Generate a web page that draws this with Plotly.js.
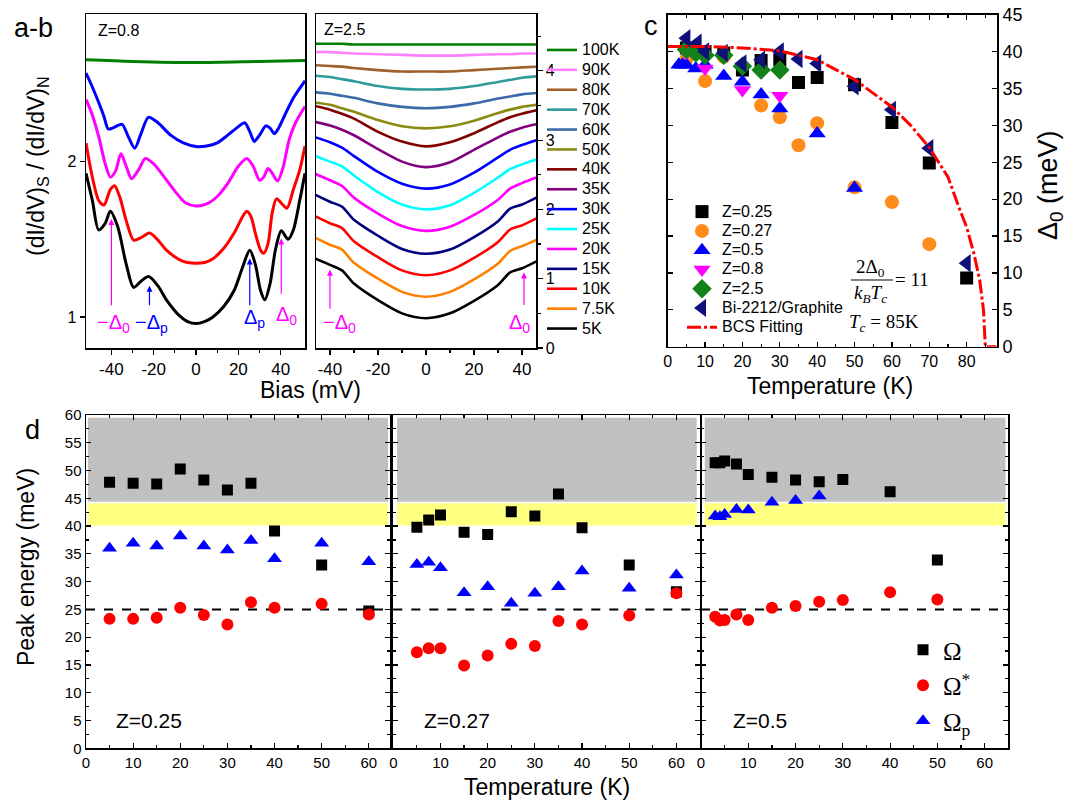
<!DOCTYPE html>
<html><head><meta charset="utf-8">
<script src="https://cdn.plot.ly/plotly-3.0.1.min.js"></script>
<style>body{margin:0;background:#fff}#g{width:1084px;height:803px}</style>
</head><body><div id="g"></div><script>
// ---------- Panel a (Z=0.8) ----------
const aBiasBlack=[-52,-49,-46,-43,-40.5,-37,-33,-29.5,-26,-22.4,-18,-14,-8,-4,0,4,8,13,18,22,25.4,28,30.5,32.5,35,37.5,40.3,43.5,46,49,51.5];
const aBlack=[1.925,1.75,1.56,1.60,1.68,1.58,1.34,1.19,1.23,1.26,1.20,1.11,1.01,0.97,0.957,0.97,1.0,1.065,1.17,1.32,1.43,1.34,1.17,1.11,1.215,1.43,1.555,1.50,1.56,1.75,1.925];
const aBiasRed=[-52,-49,-46,-43.5,-40.5,-38.5,-36,-33,-29.5,-26,-22,-18,-14,-8,-4,0,4,8,13,18,22,24,26,28,30.5,32,34,36,38,40.5,43,46,49,51.5];
const aRed=[2.12,1.90,1.75,1.72,1.82,1.845,1.77,1.62,1.495,1.51,1.54,1.495,1.43,1.37,1.35,1.345,1.35,1.375,1.44,1.54,1.645,1.68,1.645,1.54,1.43,1.41,1.47,1.67,1.76,1.73,1.70,1.82,1.945,2.10];
const aBiasMag=[-52,-49,-46,-43,-40.5,-38,-35.5,-33,-30.5,-27,-24,-20,-15,-10,-5,0,5,10,15,20,24,27,30,32,34,36,38.5,41,44,47,51.5];
const aMag=[2.40,2.30,2.16,1.99,1.90,1.94,2.05,1.97,1.89,1.95,2.02,1.985,1.90,1.81,1.735,1.714,1.727,1.775,1.86,1.97,2.02,1.97,1.88,1.90,1.955,1.925,1.875,1.955,2.14,2.25,2.355];
const aBiasBlue=[-52,-49,-46,-43.5,-41.5,-39.5,-35,-32,-29,-26,-22.5,-18,-12,-6,0,5,10,15,20,23,25.5,27.5,30,33,35,37,39,42,46,51.5];
const aBlue=[2.57,2.48,2.38,2.29,2.21,2.215,2.24,2.16,2.086,2.18,2.285,2.25,2.17,2.12,2.097,2.10,2.12,2.17,2.225,2.25,2.19,2.13,2.17,2.23,2.215,2.18,2.215,2.30,2.41,2.52];
const aBiasGreen=[-52,-30,0,30,51.5];
const aGreen=[2.656,2.645,2.638,2.645,2.65];

// ---------- Panel b (Z=2.5) ----------
const bBias=[-46,-40,-35,-30,-20,-10,0,10,20,30,35,40,46];
const bLabels=['100K','90K','80K','70K','60K','50K','40K','35K','30K','25K','20K','15K','10K','7.5K','5K'];
const bColors=['#008000','#ff80ff','#a0622d','#2e9a9a','#3a6aa8','#8b8b14','#800000','#800080','#0000ff','#00ffff','#ff00ff','#00007f','#ff0000','#ff8000','#000000'];
const b100=[4.39,4.39,4.39,4.38,4.38,4.38,4.38,4.38,4.38,4.38,4.38,4.38,4.38];
const b90=[4.27,4.27,4.26,4.25,4.24,4.23,4.22,4.22,4.23,4.24,4.24,4.25,4.25];
const b80=[4.08,4.07,4.06,4.04,4.01,3.99,3.99,3.99,4.01,4.03,4.04,4.05,4.06];
const b70=[3.93,3.91,3.88,3.85,3.78,3.74,3.73,3.74,3.78,3.84,3.87,3.90,3.92];
const b60=[3.69,3.67,3.64,3.61,3.53,3.48,3.46,3.48,3.53,3.60,3.63,3.66,3.68];
const b50=[3.54,3.51,3.46,3.41,3.29,3.20,3.17,3.20,3.28,3.39,3.44,3.48,3.51];
const b40=[3.49,3.44,3.38,3.31,3.12,2.98,2.91,2.97,3.10,3.26,3.33,3.38,3.43];
const b35=[3.26,3.21,3.15,3.07,2.87,2.69,2.61,2.68,2.86,3.04,3.12,3.18,3.23];
const b30=[3.04,2.97,2.89,2.77,2.54,2.37,2.30,2.36,2.53,2.75,2.86,2.93,3.00];
const b25=[2.77,2.69,2.62,2.49,2.25,2.07,2.00,2.06,2.24,2.46,2.58,2.65,2.72];
const b20=[2.51,2.42,2.34,2.17,1.94,1.76,1.69,1.75,1.92,2.14,2.30,2.38,2.46];
const b15=[2.21,2.11,2.04,1.85,1.62,1.43,1.36,1.42,1.60,1.83,2.01,2.07,2.17];
const b10=[1.90,1.80,1.73,1.54,1.31,1.12,1.05,1.12,1.30,1.53,1.71,1.77,1.87];
const b7_5=[1.59,1.49,1.42,1.23,1.00,0.81,0.74,0.81,0.99,1.22,1.40,1.47,1.56];
const b5=[1.29,1.20,1.12,0.93,0.69,0.50,0.43,0.50,0.68,0.91,1.09,1.15,1.25];
const bSeries=[b100,b90,b80,b70,b60,b50,b40,b35,b30,b25,b20,b15,b10,b7_5,b5];

// ---------- Panel c (gap vs T) ----------
const cT025=[5,10,15,20,25,30,35,40,50,60,70,80];
const cD025=[40.5,40.0,39.8,37.5,38.8,38.9,35.8,36.5,35.5,30.4,24.9,9.3];
const cT027=[5,10,15,25,30,35,40,50,60,70];
const cD027=[39.0,36.0,39.3,32.7,31.1,27.3,30.3,21.6,19.6,13.9];
const cT05=[3,4,5,7.5,10,15,20,25,30,40,50];
const cD05=[38.2,38.2,38.2,37.7,38.2,36.7,35.9,34.2,32.3,28.9,21.5];
const cT08=[5,10,20,30];
const cD08=[39.8,37.7,34.8,34.0];
const cT25=[5,7.5,10,15,20,25,30];
const cD25=[40.3,39.8,39.5,39.5,38.0,37.5,37.5];
const cTBi=[5,8,10,15,20,25,30,35,40,50,60,70,80];
const cDBi=[41.8,41.2,40.0,39.8,38.4,38.9,40.0,39.0,38.4,35.3,32.1,26.9,11.3];
const cTBcs=[0,10,20,30,40,50,60,65,70,75,78,80,82,83.5,84.5,85,88];
const cDBcs=[40.7,40.7,40.5,40.1,38.9,36.2,32.5,30.0,27.0,23.0,18.8,16.2,12.5,9.0,5.0,0,0];

// ---------- Panel d (peak energies) ----------
const d1T=[5,10,15,20,25,30,35,40,50,60];
const d1Om=[47.9,47.7,47.6,50.3,48.3,46.5,47.7,39.1,33.0,24.7];
const d1OmS=[23.3,23.3,23.5,25.3,24.0,22.3,26.3,25.3,26.0,24.1];
const d1OmP=[36.0,36.9,36.4,38.2,36.4,35.7,37.4,34.1,36.9,33.6];
const d2T=[5,7.5,10,15,20,25,30,35,40,50,60];
const d2Om=[39.8,41.1,42.0,38.9,38.5,42.6,41.8,45.8,39.7,33.0,28.2];
const d2OmS=[17.3,18.0,18.0,14.9,16.7,18.8,18.4,22.9,22.3,23.9,27.9];
const d2OmP=[33.1,33.5,32.5,28.0,29.1,26.1,27.9,29.1,31.9,28.8,31.2];
const d3T=[3,4,5,7.5,10,15,20,25,30,40,50];
const d3Om=[51.4,51.4,51.7,51.2,49.3,48.8,48.3,48.0,48.4,46.2,33.9];
const d3OmS=[23.7,23.0,23.1,24.1,23.1,25.3,25.6,26.4,26.7,28.1,26.8];
const d3TP=[3,4,5,7.5,10,15,20,25];
const d3OmP=[41.8,41.7,42.1,43.0,42.9,44.3,44.6,45.4];
const grayBand=[44.4,59.5], yellowBand=[40.1,44.1], refLine=25;

const biasTicks=[-40,-20,0,20,40], biasTickText=['-40','-20','0','20','40'];

// ---------- helpers ----------
const W=1084,H=803;
const PX=x=>x/W, PY=y=>1-y/H;
const SANS='Liberation Sans, Arial, sans-serif';
const SERIF='Liberation Serif, Times New Roman, serif';
const big=(s,n)=>'<span style="font-size:'+n+'px">'+s+'</span>';
const traces=[];
function line(x,y,color,xa,ya,w){traces.push({x,y,xaxis:xa,yaxis:ya,mode:'lines',line:{color,width:w||3,shape:'spline',smoothing:0.8},showlegend:false,hoverinfo:'skip'});}

// panel a
line(aBiasGreen,aGreen,'#008000','x','y');
line(aBiasBlue,aBlue,'#0000ff','x','y');
line(aBiasMag,aMag,'#ff00ff','x','y');
line(aBiasRed,aRed,'#ff0000','x','y');
line(aBiasBlack,aBlack,'#000000','x','y');
// panel b
bSeries.forEach((s,i)=>traces.push({x:bBias,y:s,xaxis:'x2',yaxis:'y2',mode:'lines',name:big(bLabels[i],16),legend:'legend',line:{color:bColors[i],width:2.6,shape:'spline',smoothing:0.8}}));
// panel c
function mk(x,y,name,symbol,color,size){traces.push({x,y,xaxis:'x3',yaxis:'y3',mode:'markers',name:big(name,16),legend:'legend2',marker:{symbol,color,size,line:{width:0}}});}
mk(cT025,cD025,'Z=0.25','square','#000000',13);
mk(cT027,cD027,'Z=0.27','circle','#ff8c1a',14);
mk(cT05,cD05,'Z=0.5','triangle-up','#0000ff',15);
mk(cT08,cD08,'Z=0.8','triangle-down','#ff00ff',15);
mk(cT25,cD25,'Z=2.5','diamond','#14821a',15);
mk(cTBi,cDBi,'Bi-2212/Graphite','triangle-left','#10107a',16);
traces.push({x:cTBcs,y:cDBcs,xaxis:'x3',yaxis:'y3',mode:'lines',name:big('BCS Fitting',16),legend:'legend2',line:{color:'#ff0000',width:3,dash:'14px,3px,3px,3px'}});
// panel d
const dSets=[[d1T,d1Om,d1OmS,d1T,d1OmP,'x4','y4',false],[d2T,d2Om,d2OmS,d2T,d2OmP,'x5','y5',false],[d3T,d3Om,d3OmS,d3TP,d3OmP,'x6','y6',true]];
dSets.forEach(([t,om,oms,tp,omp,xa,ya,sl])=>{
  traces.push({x:t,y:om,xaxis:xa,yaxis:ya,mode:'markers',name:'Ω',legend:'legend3',showlegend:sl,marker:{symbol:'square',color:'#000',size:11}});
  traces.push({x:t,y:oms,xaxis:xa,yaxis:ya,mode:'markers',name:'Ω<sup>*</sup>',legend:'legend3',showlegend:sl,marker:{symbol:'circle',color:'#ff0000',size:12}});
  traces.push({x:tp,y:omp,xaxis:xa,yaxis:ya,mode:'markers',name:'Ω<sub>p</sub>',legend:'legend3',showlegend:sl,marker:{symbol:'triangle-up',color:'#0000ff',size:13}});
});

const base={showline:true,linecolor:'#000',linewidth:1.5,mirror:true,showgrid:false,zeroline:false,ticks:'outside',ticklen:5,tickwidth:1.2,tickcolor:'#000',tickfont:{family:SANS,size:16,color:'#000'}};
const aY=[PY(348),PY(14)];
const dY=[PY(748.3),PY(415)];
const dX=(dom,range,anchor)=>Object.assign({},base,{domain:dom,range,anchor,dtick:10,tick0:0,ticks:'inside',mirror:'allticks',tickfont:{family:SANS,size:15,color:'#000'},minor:{dtick:5,ticks:'inside',ticklen:3}});
const dYax=(anchor,labels)=>Object.assign({},base,{domain:dY,range:[0,60],anchor,dtick:5,ticks:'inside',mirror:'allticks',showticklabels:labels,tickfont:{family:SANS,size:15,color:'#000'},minor:{dtick:2.5,ticks:'inside',ticklen:3}});

const layout={
  width:W,height:H,margin:{l:0,r:0,t:0,b:0},paper_bgcolor:'#fff',plot_bgcolor:'rgba(0,0,0,0)',
  font:{family:SANS,color:'#000'},
  xaxis:Object.assign({},base,{domain:[PX(86),PX(305)],range:[-52,51.5],anchor:'y',tickvals:biasTicks,ticktext:biasTickText,tickfont:{family:SANS,size:17,color:'#000'},minor:{tickvals:[-30,-10,10,30],ticks:'outside',ticklen:3}}),
  yaxis:Object.assign({},base,{domain:aY,range:[0.8,2.95],anchor:'x',tickvals:[1,2],ticktext:['1','2']}),
  xaxis2:Object.assign({},base,{domain:[PX(316),PX(536)],range:[-45.8,45.8],anchor:'y2',tickvals:biasTicks,ticktext:biasTickText,tickfont:{family:SANS,size:17,color:'#000'},minor:{tickvals:[-30,-10,10,30],ticks:'outside',ticklen:3}}),
  yaxis2:Object.assign({},base,{domain:aY,range:[0,4.82],anchor:'x2',side:'right',dtick:1,minor:{dtick:0.5,ticks:'outside',ticklen:3}}),
  xaxis3:Object.assign({},base,{domain:[PX(667.7),PX(997.3)],range:[0,88.2],anchor:'y3',dtick:10,ticks:'inside',mirror:'allticks',minor:{dtick:5,ticks:'inside',ticklen:3}}),
  yaxis3:Object.assign({},base,{domain:[PY(346.7),PY(14.7)],range:[0,45],anchor:'x3',side:'right',dtick:5,ticks:'inside',mirror:'allticks',tickfont:{family:SANS,size:18,color:'#000'}}),
  xaxis4:dX([PX(86),PX(390)],[0,64.5],'y4'),
  yaxis4:dYax('x4',true),
  xaxis5:dX([PX(393.3),PX(700)],[0,65],'y5'),
  yaxis5:dYax('x5',false),
  xaxis6:dX([PX(701),PX(1008.3)],[0,65],'y6'),
  yaxis6:dYax('x6',false),
  legend:{x:PX(542),y:PY(35),xanchor:'left',yanchor:'top',bgcolor:'rgba(0,0,0,0)',font:{family:SANS,size:13,color:'#000'},traceorder:'normal',itemwidth:30},
  legend2:{x:PX(682),y:PY(197),xanchor:'left',yanchor:'top',bgcolor:'rgba(0,0,0,0)',font:{family:SANS,size:12.5,color:'#000'},traceorder:'normal'},
  legend3:{x:PX(903),y:PY(627),xanchor:'left',yanchor:'top',bgcolor:'rgba(0,0,0,0)',font:{family:SERIF,size:25,color:'#000'},traceorder:'normal'},
  shapes:[],annotations:[]
};
// bands and reference line in panel d
[['x4','y4',0.4,64.1],['x5','y5',0.8,64.3],['x6','y6',0.8,64.4]].forEach(([xa,ya,x0,x1])=>{
  layout.shapes.push({type:'rect',xref:xa,yref:ya,x0,x1,y0:grayBand[0],y1:grayBand[1],fillcolor:'#c0c0c0',line:{width:0},layer:'below'});
  layout.shapes.push({type:'rect',xref:xa,yref:ya,x0,x1,y0:yellowBand[0],y1:yellowBand[1],fillcolor:'#ffff80',line:{width:0},layer:'below'});
  layout.shapes.push({type:'line',xref:xa+' domain',yref:ya,x0:0,x1:1,y0:refLine,y1:refLine,line:{color:'#000',width:2,dash:'dash'},layer:'below'});
});
// fraction bar in c
layout.shapes.push({type:'line',xref:'paper',yref:'paper',x0:PX(851),x1:PX(893),y0:PY(280),y1:PY(280),line:{color:'#000',width:1.2}});

const A=layout.annotations;
function txt(x,y,text,size,opts){A.push(Object.assign({xref:'paper',yref:'paper',x:PX(x),y:PY(y),text,showarrow:false,font:{family:SANS,size,color:'#000'},xanchor:'center',yanchor:'middle'},opts||{}));}
txt(12,28,'a-b',27,{xanchor:'left'});
txt(96,30,'Z=0.8',16,{xanchor:'left'});
txt(322,29,'Z=2.5',16,{xanchor:'left'});
txt(651,26,'c',27);
txt(32,430,'d',27);
txt(310,390,'Bias (mV)',23);
txt(830,386,'Temperature (K)',23);
txt(547,787,'Temperature (K)',23);
txt(26,567,'Peak energy (meV)',23,{textangle:-90});
txt(38,166,'(dI/dV)<sub>S</sub> / (dI/dV)<sub>N</sub>',23,{textangle:-90});
txt(1050,185,'Δ<sub>0</sub> (meV)',27,{textangle:-90});
txt(149,720,'Z=0.25',21);
txt(457,720,'Z=0.27',21);
txt(760,720,'Z=0.5',21);
txt(870,268,'2Δ<sub>0</sub>',19,{font:{family:SERIF,size:19,color:'#000'}});
txt(870,294,'<i>k</i><sub><i>B</i></sub><i>T</i><sub><i>c</i></sub>',19,{font:{family:SERIF,size:19,color:'#000'}});
txt(912,279,'= 11',19,{font:{family:SERIF,size:19,color:'#000'}});
txt(884,323,'<i>T</i><sub><i>c</i></sub> = 85K',19,{font:{family:SERIF,size:19,color:'#000'}});
// arrows
function arrow(xa,ya,x,y0,y1,color){A.push({xref:xa,yref:ya,axref:xa,ayref:ya,x,y:y1,ax:x,ay:y0,text:'',showarrow:true,arrowhead:2,arrowsize:1,arrowwidth:1.2,arrowcolor:color});}
function lab(xa,ya,x,y,text,color){A.push({xref:xa,yref:ya,x,y,text,showarrow:false,font:{family:SANS,size:20,color},xanchor:'center',yanchor:'middle'});}
arrow('x','y',-40,1.065,1.63,'#ff00ff');
arrow('x','y',-22,1.065,1.20,'#0000ff');
arrow('x','y',25.4,1.065,1.376,'#0000ff');
arrow('x','y',40.3,1.14,1.505,'#ff00ff');
lab('x','y',-39,0.955,'−Δ<sub>0</sub>','#ff00ff');
lab('x','y',-21,0.955,'−Δ<sub>p</sub>','#0000ff');
lab('x','y',27.5,0.99,'Δ<sub>p</sub>','#0000ff');
lab('x','y',42.7,1.01,'Δ<sub>0</sub>','#ff00ff');
arrow('x2','y2',-40,0.545,1.13,'#ff00ff');
arrow('x2','y2',40.8,0.6,1.09,'#ff00ff');
lab('x2','y2',-36,0.36,'−Δ<sub>0</sub>','#ff00ff');
lab('x2','y2',39,0.36,'Δ<sub>0</sub>','#ff00ff');

Plotly.newPlot('g',traces,layout,{staticPlot:true});
</script></body></html>
